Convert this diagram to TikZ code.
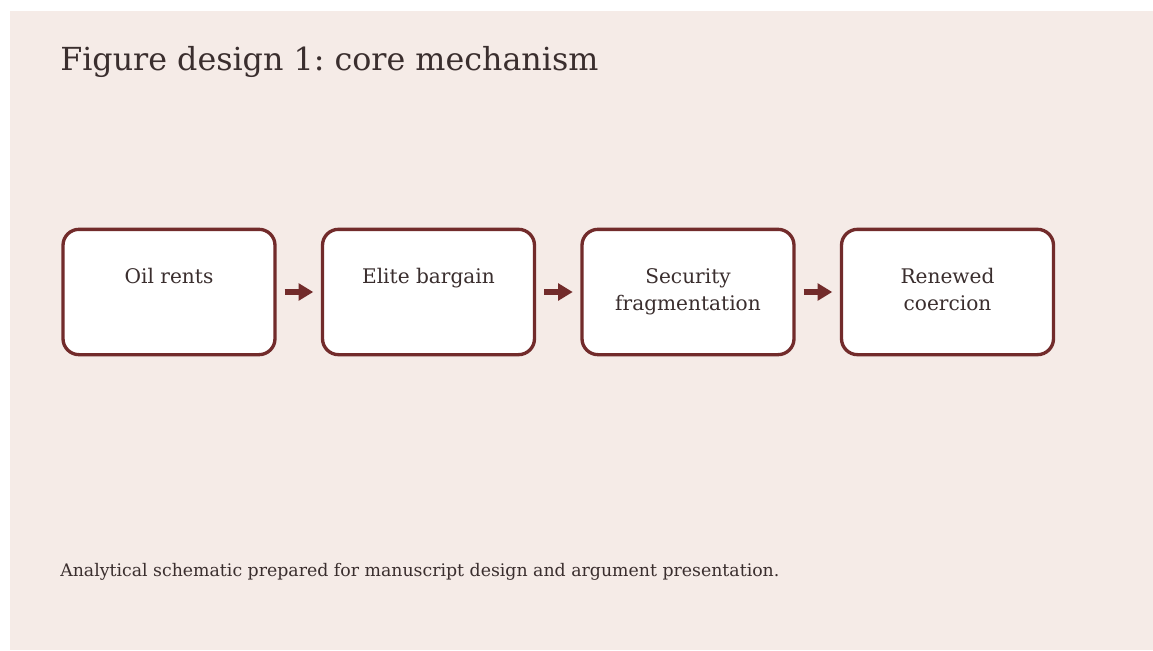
\documentclass[tikz,border=0pt]{standalone}
\usepackage{fontspec}
\setmainfont{DejaVu Serif}
\usetikzlibrary{arrows.meta}
\frenchspacing

\definecolor{panel}{HTML}{F5EBE7}
\definecolor{wine}{HTML}{722B2B}
\definecolor{ink}{HTML}{3A2E2E}

\newcommand{\stagetext}[1]{\parbox[c][94pt][t]{150pt}{\centering\vspace*{25.8pt}\strut#1\par}}

\tikzset{
	stage/.style={draw=wine, line width=2.5pt, fill=white, rounded corners=12pt,
		minimum width=159pt, minimum height=94pt, inner sep=0pt, text=ink,
		font=\fontsize{15.1}{20.8}\selectfont},
	push/.style={draw=wine, line width=4pt, -{Triangle[length=11pt, width=12.5pt]},
		shorten <=6pt, shorten >=5.7pt},
}

\begin{document}
\begin{tikzpicture}[x=0.75pt, y=-0.75pt]
%		\draw (0,0) grid (1153,650);
		\useasboundingbox (0,0) rectangle (1153,650);
		\fill[panel] (10,11) rectangle (1153,650);
		
		\node[anchor=base west, inner sep=0pt, text=ink, font=\fontsize{23.8}{28}\selectfont] (title) at (60,70) {Figure design 1: core mechanism};
		
		\node[stage] (oil) at (169,292) {\stagetext{Oil rents}};
		\node[stage] (bargain) at (428.5,292) {\stagetext{Elite bargain}};
		\node[stage] (frag) at (688,292) {\stagetext{Security\\fragmentation}};
		\node[stage] (coerce) at (947.5,292) {\stagetext{Renewed\\coercion}};
		
		\draw[push] (oil) -- (bargain);
		\draw[push] (bargain) -- (frag);
		\draw[push] (frag) -- (coerce);
		
		\node[anchor=base west, inner sep=0pt, text=ink, font=\fontsize{13}{16}\selectfont] (note) at (60,576.5) {Analytical schematic prepared for manuscript design and argument presentation.};
	\end{tikzpicture}
\end{document}
